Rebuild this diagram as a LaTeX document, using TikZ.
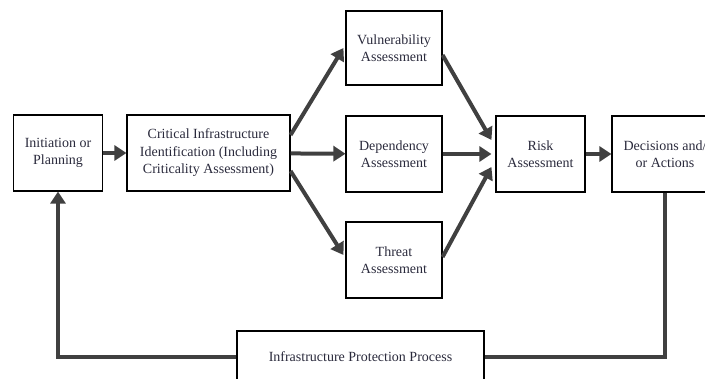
\documentclass[tikz,border=0pt]{standalone}
\usepackage{fontspec}
\setmainfont{Liberation Serif}
\usetikzlibrary{arrows.meta}
\definecolor{arrowgray}{HTML}{404040}
\definecolor{textnavy}{HTML}{2A2A3C}
\begin{document}
\begin{tikzpicture}[x=1pt,y=-1pt]
  \useasboundingbox (0,0) rectangle (705,378);
  \begin{scope}[every node/.style={draw=black,line width=1.1pt,align=center,
      text=textnavy,font=\fontsize{14}{17.5}\selectfont,inner sep=2pt}]
  \node[minimum width=89pt,minimum height=76pt] (init) at (58,153) {Initiation or\\Planning};
  \node[minimum width=163pt,minimum height=76pt] (crit) at (208.5,153) {Critical Infrastructure\\Identification (Including\\Criticality Assessment)};
  \node[minimum width=96pt,minimum height=74pt] (vuln) at (394,48) {Vulnerability\\Assessment};
  \node[minimum width=96pt,minimum height=76pt] (dep) at (394,154) {Dependency\\Assessment};
  \node[minimum width=96pt,minimum height=76pt] (threat) at (394,260) {Threat\\Assessment};
  \node[minimum width=89pt,minimum height=76pt] (risk) at (540.5,154) {Risk\\Assessment};
  \node[minimum width=106pt,minimum height=76pt] (dec) at (665,154) {Decisions and/\\or Actions};
  \node[minimum width=247pt,minimum height=52pt] (prot) at (360.5,357) {Infrastructure Protection Process};
  \end{scope}
  \begin{scope}[every edge/.style={draw=arrowgray,line width=4pt,
      -{Triangle[length=12pt,width=15pt]}}]
  \path (init) edge (crit);
  \path ([yshift=18pt]crit.east) edge ([xshift=-2pt]vuln.west);
  \path (crit) edge (dep);
  \path ([yshift=-18pt]crit.east) edge ([yshift=5pt,xshift=-2pt]threat.west);
  \path ([yshift=-7pt]vuln.east) edge ([yshift=14pt,xshift=-4pt]risk.west);
  \path (dep) edge ([xshift=-4pt]risk.west);
  \path ([yshift=3pt]threat.east) edge ([yshift=-13pt,xshift=-4pt]risk.west);
  \path (risk) edge (dec);
  \end{scope}
  \draw[arrowgray,line width=4pt] (dec.south) |- (prot.east);
  \draw[arrowgray,line width=4pt,-{Triangle[length=12pt,width=15pt]}] (prot.west) -| (init.south);
\end{tikzpicture}
\end{document}
